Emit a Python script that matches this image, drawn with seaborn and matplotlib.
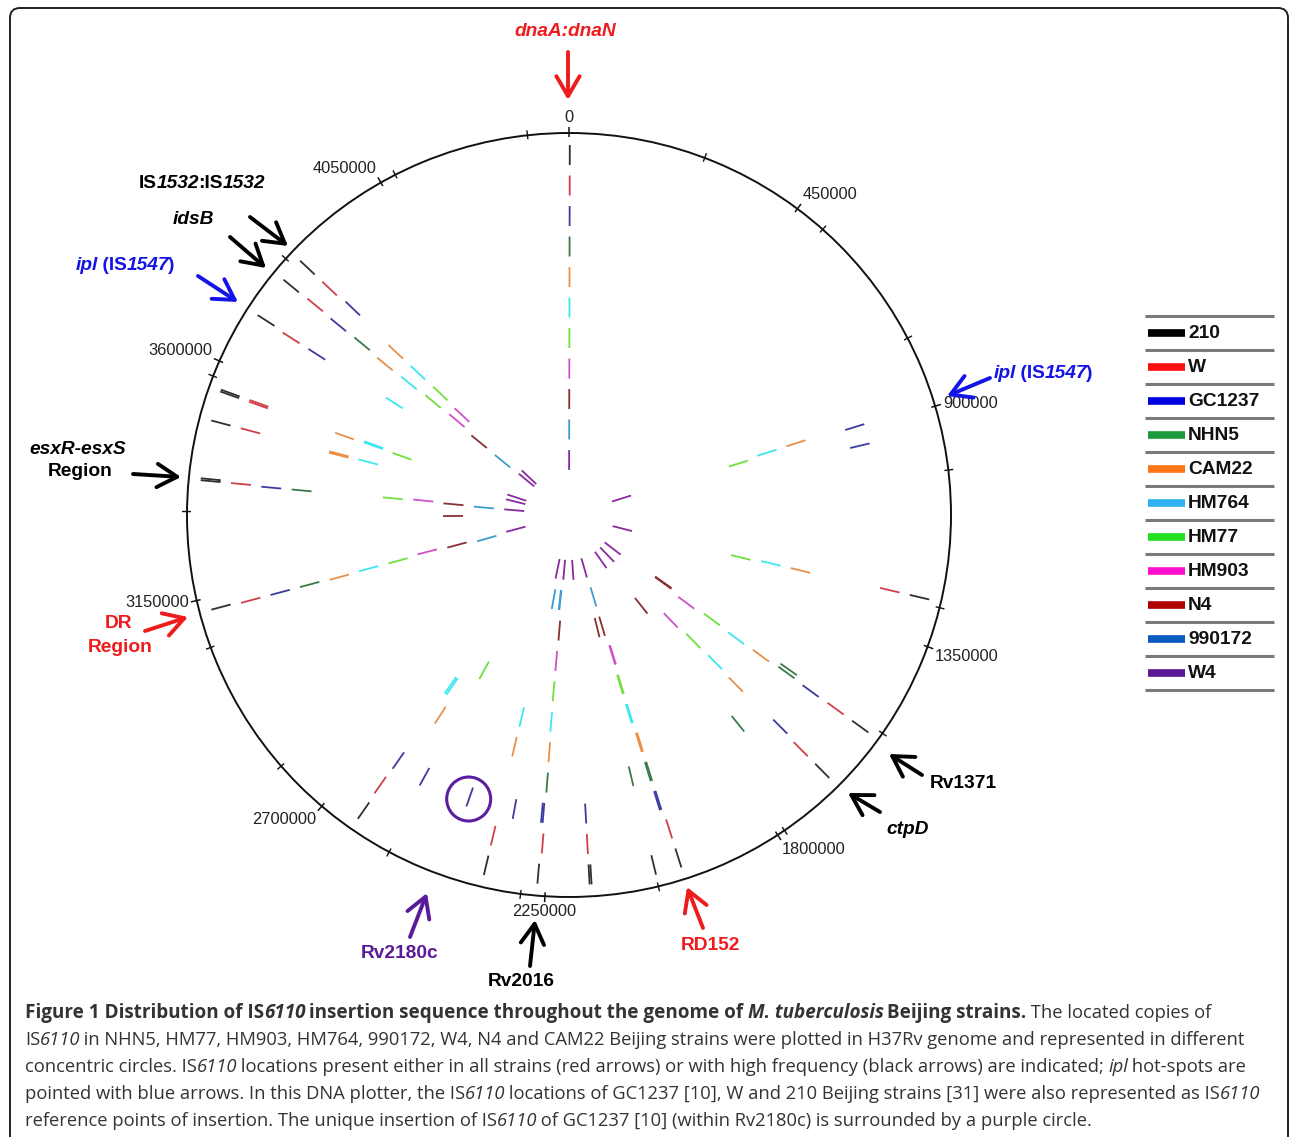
import numpy as np
import matplotlib
matplotlib.use("Agg")
import matplotlib.pyplot as plt
import seaborn as sns
from matplotlib.patches import Circle, FancyBboxPatch

# H37Rv genome length, used to turn positions into angles
GENOME = 4411532

strains = ["210", "W", "GC1237", "NHN5", "CAM22", "HM764", "HM77", "HM903", "N4", "990172", "W4"]

# IS6110 insertion positions (bp), one list per ring
pos_210 = [1500, 1264600, 1544000, 1658000, 1989000, 2039100, 2162900, 2166600, 2265800, 2368800,
           2632200, 3127000, 3374800, 3378500, 3490000, 3547600, 3551300, 3709400, 3792700, 3840500]
pos_w = [1500, 1264600, 1544000, 1658000, 1989000, 2166600, 2262000, 2368800, 2634000, 3124800,
         3374800, 3490000, 3547600, 3551300, 3707000, 3794000, 3840500]
pos_gc1237 = [1500, 893300, 938700, 1545000, 1655000, 1992500, 1996000, 2166600, 2265800, 2269500,
              2334400, 2443500, 2560000, 2632200, 3124800, 3373000, 3707000, 3792700, 3844000]
pos_nhn5 = [1500, 1533000, 1543000, 1728000, 1993000, 1996500, 2042000, 2263000, 3124800, 3373000, 3794000]
pos_cam22 = [1500, 888000, 1268000, 1547000, 1660000, 1993000, 1996500, 2264000, 2368000, 2607000,
             3123000, 3487000, 3491000, 3546000, 3791000, 3839000]
pos_hm764 = [1500, 889000, 1268000, 1549000, 1657000, 1997000, 2000500, 2266000, 2367000, 2626000,
             2633000, 3124800, 3490000, 3547600, 3551300, 3709000, 3793000, 3839000]
pos_hm77 = [1500, 896000, 1273000, 1546000, 1659000, 1997000, 2000500, 2267000, 2557000, 3124800,
            3375000, 3546000, 3797000, 3840000]
pos_hm903 = [1500, 1554000, 1666600, 1992000, 1995500, 2267000, 3130000, 3378000, 3800000, 3836000]
pos_n4 = [1500, 1538000, 1542000, 1734000, 2003000, 2034000, 2264600, 3124800, 3302500, 3373600, 3789000]
pos_990172 = [1500, 2002300, 2277000, 2281000, 2333200, 3112600, 3370000, 3786600]
pos_w4 = [1500, 889700, 1278000, 1562400, 1667800, 1774000, 2009700, 2157000, 2267000, 2352800,
          3124800, 3370000, 3480000, 3534000, 3792000, 3840000]

positions = [pos_210, pos_w, pos_gc1237, pos_nhn5, pos_cam22, pos_hm764,
             pos_hm77, pos_hm903, pos_n4, pos_990172, pos_w4]

major_ticks = [0, 450000, 900000, 1350000, 1800000, 2250000, 2700000, 3150000, 3600000, 4050000]
minor_ticks = [255000 * k for k in range(1, 18)]

unique_gc1237 = 2443500  # insertion within Rv2180c

# colours of the rings and of the legend swatches
ring_colors = ["#303030", "#d0404a", "#3c3ca0", "#3a7a48", "#e8904a", "#3ce8f0",
               "#6ee040", "#d050c8", "#883030", "#3c9cd0", "#8a2aa0"]
legend_colors = sns.color_palette(["#000000", "#ff1010", "#0000e0", "#1a9a3a", "#ff7518", "#30b0f0",
                                   "#20e020", "#ff10d0", "#b00000", "#0a5ac0", "#5a1896"])

sns.set_style("white")
plt.rcParams["font.family"] = ["Liberation Sans", "DejaVu Sans"]

W, H = 1290, 1137
fig = plt.figure(figsize=(W / 100, H / 100), dpi=100)

cx, cy, R = 569, 515, 382
ax = fig.add_axes([(cx - R) / W, (H - cy - R) / H, 2 * R / W, 2 * R / H], projection="polar")
ax.set_theta_zero_location("N")
ax.set_theta_direction(-1)
ax.set_rlim(0, R)
ax.grid(False)
ax.set_xticks([])
ax.set_yticks([])
ax.spines["polar"].set_color("#111111")
ax.spines["polar"].set_linewidth(1.4)
ax.patch.set_alpha(0)


def ang(p):
    return np.asarray(p, dtype=float) / GENOME * 2 * np.pi


def ring_r(i):
    return 360 - 30.5 * i


for i, s in enumerate(strains):
    r = ring_r(i)
    ax.vlines(ang(positions[i]), r - 10, r + 10, colors=ring_colors[i], lw=1.3)

ax.vlines(ang(major_ticks), R - 4, R + 6, colors="#111111", lw=1.1, clip_on=False)
ax.vlines(ang(minor_ticks), R - 4, R + 5, colors="#111111", lw=1.0, clip_on=False)

for t in major_ticks:
    th = ang(t)
    s, c = np.sin(th), np.cos(th)
    ha = "left" if s > 0.3 else ("right" if s < -0.3 else "center")
    va = "bottom" if c > 0.3 else ("top" if c < -0.3 else "center")
    ax.text(th, R + 8, str(t), ha=ha, va=va, fontsize=11.8, color="#222222", clip_on=False)

# overlay in pixel coordinates for arrows, legend and caption
ov = fig.add_axes([0, 0, 1, 1])
ov.set_xlim(0, W)
ov.set_ylim(H, 0)
ov.axis("off")
ov.patch.set_alpha(0)

ov.add_patch(FancyBboxPatch((10, 8), 1278, 1250, boxstyle="round,pad=0,rounding_size=10",
                            fill=False, ec="#222222", lw=1.4, clip_on=False))

# purple circle around the unique GC1237 insertion
th_u = ang(unique_gc1237)
ux, uy = cx + ring_r(2) * np.sin(th_u), cy - ring_r(2) * np.cos(th_u)
ov.add_patch(Circle((ux - 1, uy + 2), 22, fill=False, ec="#5b1e9e", lw=2.2))

renderer = fig.canvas.get_renderer()


def text_runs(x, y, parts, ha="left", size=13.8, color="black", family=None, bold_size=None):
    fam = family if family else plt.rcParams["font.family"]
    items = []
    for s, wt, st in parts:
        sz = bold_size if (bold_size and wt == "bold") else size
        kw = dict(fontsize=sz, fontweight=wt, fontstyle=st, family=fam)
        t = ov.text(0, y, s, color=color, va="center", ha="left", **kw)
        a = ov.text(0, -100, "|" + s + "|", **kw)
        b = ov.text(0, -100, "||", **kw)
        w = a.get_window_extent(renderer).width - b.get_window_extent(renderer).width
        if st == "italic":
            w -= 0.12 * sz  # slanted sentinel overestimates the run width
        a.remove()
        b.remove()
        items.append((t, w))
    total = sum(w for _, w in items)
    x0 = x - total / 2 if ha == "center" else x
    for t, w in items:
        t.set_x(x0)
        x0 += w


B, BI, N, I = ("bold", "normal"), ("bold", "italic"), ("normal", "normal"), ("normal", "italic")


def p(s, style):
    return (s, style[0], style[1])


arrows = [
    ([p("dnaA:dnaN", BI)], "#ee1c1c", (564, 32), (568, 52), (568, 100)),
    ([p("IS", B), p("1532", BI), p(":IS", B), p("1532", BI)], "black", (201, 183), (250, 217), (288, 246)),
    ([p("idsB", BI)], "black", (193, 220), (230, 237), (266, 268)),
    ([p("ipl", BI), p(" (IS", B), p("1547", BI), p(")", B)], "#1414e6", (125, 265), (198, 276), (238, 302)),
    ([p("esxR-esxS", BI)], "black", (77, 450), (133, 474), (181, 477)),
    ([p("DR", B)], "#ee1c1c", (118, 624), (145, 631), (188, 617)),
    ([p("Rv2180c", B)], "#5a1a9a", (400, 954), (410, 937), (427, 893)),
    ([p("Rv2016", B)], "black", (521, 982), (530, 966), (535, 920)),
    ([p("RD152", B)], "#ee1c1c", (710, 945), (703, 928), (687, 887)),
    ([p("ctpD", BI)], "black", (907, 830), (880, 812), (848, 793)),
    ([p("Rv1371", B)], "black", (963, 783), (922, 775), (889, 754)),
    ([p("ipl", BI), p(" (IS", B), p("1547", BI), p(")", B)], "#1414e6", (1043, 374), (990, 378), (947, 396)),
]

for parts, col, (tx, ty), tail, head in arrows:
    text_runs(tx, ty, parts, ha="center", color=col)
    ov.annotate("", xy=head, xytext=tail,
                arrowprops=dict(arrowstyle="->,head_length=0.6,head_width=0.35", lw=2.8,
                                color=col, mutation_scale=24, shrinkA=0, shrinkB=0))

text_runs(80, 472, [p("Region", B)], ha="center")
text_runs(120, 647, [p("Region", B)], ha="center", color="#ee1c1c")

# legend table
row_y = [333 + 34 * i for i in range(len(strains))]
ov.hlines([316 + 34 * k for k in range(len(strains) + 1)], 1145, 1274, colors="#7a7a7a", lw=2.2)
ov.hlines(row_y, 1148, 1185, colors=legend_colors, lw=5.5)
for y, s in zip(row_y, strains):
    ov.text(1188, y, s, fontsize=13.8, fontweight="bold", va="center", ha="left", color="#111111")

# caption
cap_font = ["Open Sans", "DejaVu Sans"]
caption = [
    [p("Figure 1 Distribution of IS", B), p("6110", BI), p(" insertion sequence throughout the genome of ", B),
     p("M. tuberculosis", BI), p(" Beijing strains.", B), p(" The located copies of", N)],
    [p("IS", N), p("6110", I),
     p(" in NHN5, HM77, HM903, HM764, 990172, W4, N4 and CAM22 Beijing strains were plotted in H37Rv genome and represented in different", N)],
    [p("concentric circles. IS", N), p("6110", I),
     p(" locations present either in all strains (red arrows) or with high frequency (black arrows) are indicated; ", N),
     p("ipl", I), p(" hot-spots are", N)],
    [p("pointed with blue arrows. In this DNA plotter, the IS", N), p("6110", I),
     p(" locations of GC1237 [10], W and 210 Beijing strains [31] were also represented as IS", N), p("6110", I)],
    [p("reference points of insertion. The unique insertion of IS", N), p("6110", I),
     p(" of GC1237 [10] (within Rv2180c) is surrounded by a purple circle.", N)],
]
for k, line in enumerate(caption):
    text_runs(25, 1013 + 27 * k, line, size=13.2, color="#333333", family=cap_font, bold_size=13.6)

fig.savefig("out.png", dpi=100)
